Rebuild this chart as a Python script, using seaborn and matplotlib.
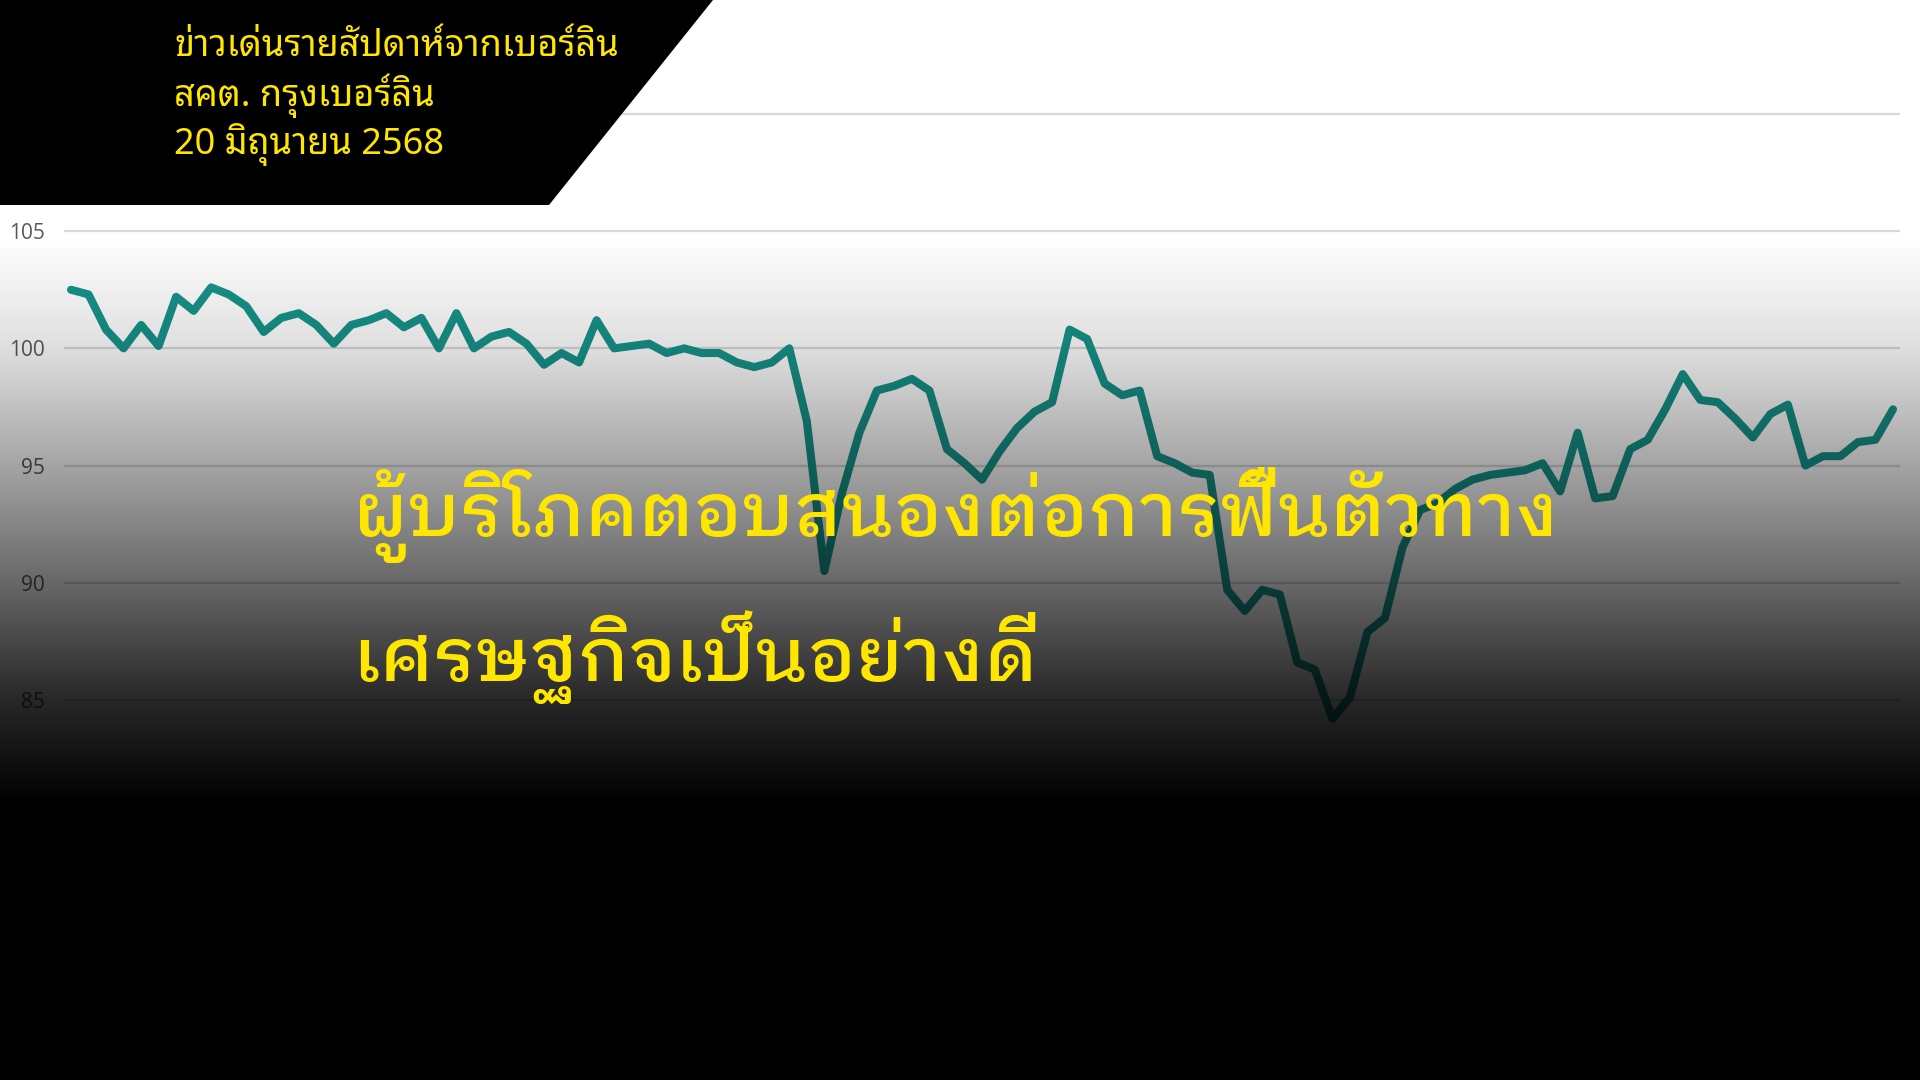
import numpy as np
import matplotlib
matplotlib.use("Agg")
import matplotlib.pyplot as plt
import seaborn as sns
from matplotlib.patches import Polygon

# ข้อมูลดัชนี (รายเดือน) อ่านจากภาพ
index_values = [
    102.5, 102.3, 100.8, 100.0, 101.0, 100.1, 102.2, 101.6, 102.6, 102.3,
    101.8, 100.7, 101.3, 101.5, 101.0, 100.2, 101.0, 101.2, 101.5, 100.9,
    101.3, 100.0, 101.5, 100.0, 100.5, 100.7, 100.2, 99.3, 99.8, 99.4,
    101.2, 100.0, 100.1, 100.2, 99.8, 100.0, 99.8, 99.8, 99.4, 99.2,
    99.4, 100.0, 96.9, 90.5, 93.8, 96.4, 98.2, 98.4, 98.7, 98.2,
    95.7, 95.1, 94.4, 95.6, 96.6, 97.3, 97.7, 100.8, 100.4, 98.5,
    98.0, 98.2, 95.4, 95.1, 94.7, 94.6, 89.7, 88.8, 89.7, 89.5,
    86.6, 86.3, 84.2, 85.1, 87.9, 88.5, 91.5, 93.1, 93.4, 94.0,
    94.4, 94.6, 94.7, 94.8, 95.1, 93.9, 96.4, 93.6, 93.7, 95.7,
    96.1, 97.4, 98.9, 97.8, 97.7, 97.0, 96.2, 97.2, 97.6, 95.0,
    95.4, 95.4, 96.0, 96.1, 97.4,
]
y_ticks = [85, 90, 95, 100, 105, 110]

header_lines = ["ข่าวเด่นรายสัปดาห์จากเบอร์ลิน", "สคต. กรุงเบอร์ลิน", "20 มิถุนายน 2568"]
headline_lines = ["ผู้บริโภคตอบสนองต่อการฟื้นตัวทาง", "เศรษฐกิจเป็นอย่างดี"]

LINE_COLOR = "#17948a"
YELLOW = "#ffe600"

sns.set_style("white")
plt.rcParams["font.family"] = ["Noto Sans Thai Looped", "DejaVu Sans"]

fig = plt.figure(figsize=(19.2, 10.8), dpi=100)
fig.patch.set_facecolor("white")

W, H = 1920, 1080
ax = fig.add_axes([64 / W, 0, (1900 - 64) / W, 1])
x = np.arange(len(index_values))
sns.lineplot(x=x, y=index_values, ax=ax, color=LINE_COLOR, linewidth=5.8)
ax.set_xlim(-0.4, len(index_values) - 1 + 0.4)
ax.set_ylim(68.79, 114.86)
ax.set_yticks(y_ticks)
ax.set_yticklabels([str(t) for t in y_ticks], fontsize=15, color="#595959",
                   family=["Open Sans", "DejaVu Sans"])
ax.tick_params(axis="y", length=0, pad=14)
ax.set_xticks([])
ax.grid(axis="y", color="#d9d9d9", linewidth=1.6)
ax.set_axisbelow(True)
for s in ax.spines.values():
    s.set_visible(False)
ax.set_xlabel("")
ax.set_ylabel("")

# ไล่เฉดดำทับกราฟ
ov = fig.add_axes([0, 0, 1, 1], zorder=5)
ov.set_axis_off()
rows = np.arange(H)
alpha = np.interp(rows, [0, 235, 348, 465, 583, 700, 800, H],
                  [0, 0, 0.13, 0.36, 0.60, 0.85, 1, 1])
grad = np.zeros((H, 1, 4))
grad[:, 0, 3] = alpha
ov.imshow(grad, aspect="auto", extent=[0, 1, 0, 1], origin="upper")
ov.set_xlim(0, 1)
ov.set_ylim(0, 1)

# กล่องดำมุมซ้ายบน
poly = Polygon([(0, 1), (713 / W, 1), (549 / W, 1 - 205 / H), (0, 1 - 205 / H)],
               closed=True, transform=fig.transFigure, facecolor="black",
               edgecolor="none", zorder=10)
fig.patches.append(poly)

for i, line in enumerate(header_lines):
    fig.text(174 / W, 1 - (47 + 48.5 * i) / H, line, color=YELLOW, fontsize=26,
             fontweight="medium", va="center", ha="left", zorder=20)

for i, line in enumerate(headline_lines):
    fig.text(353 / W, 1 - (515 + 142 * i) / H, line, color=YELLOW, fontsize=54,
             fontweight="medium", va="center", ha="left", zorder=20,
             family=["IBM Plex Sans Thai Looped", "Noto Sans Thai Looped", "DejaVu Sans"])

fig.savefig("out.png", dpi=100)
